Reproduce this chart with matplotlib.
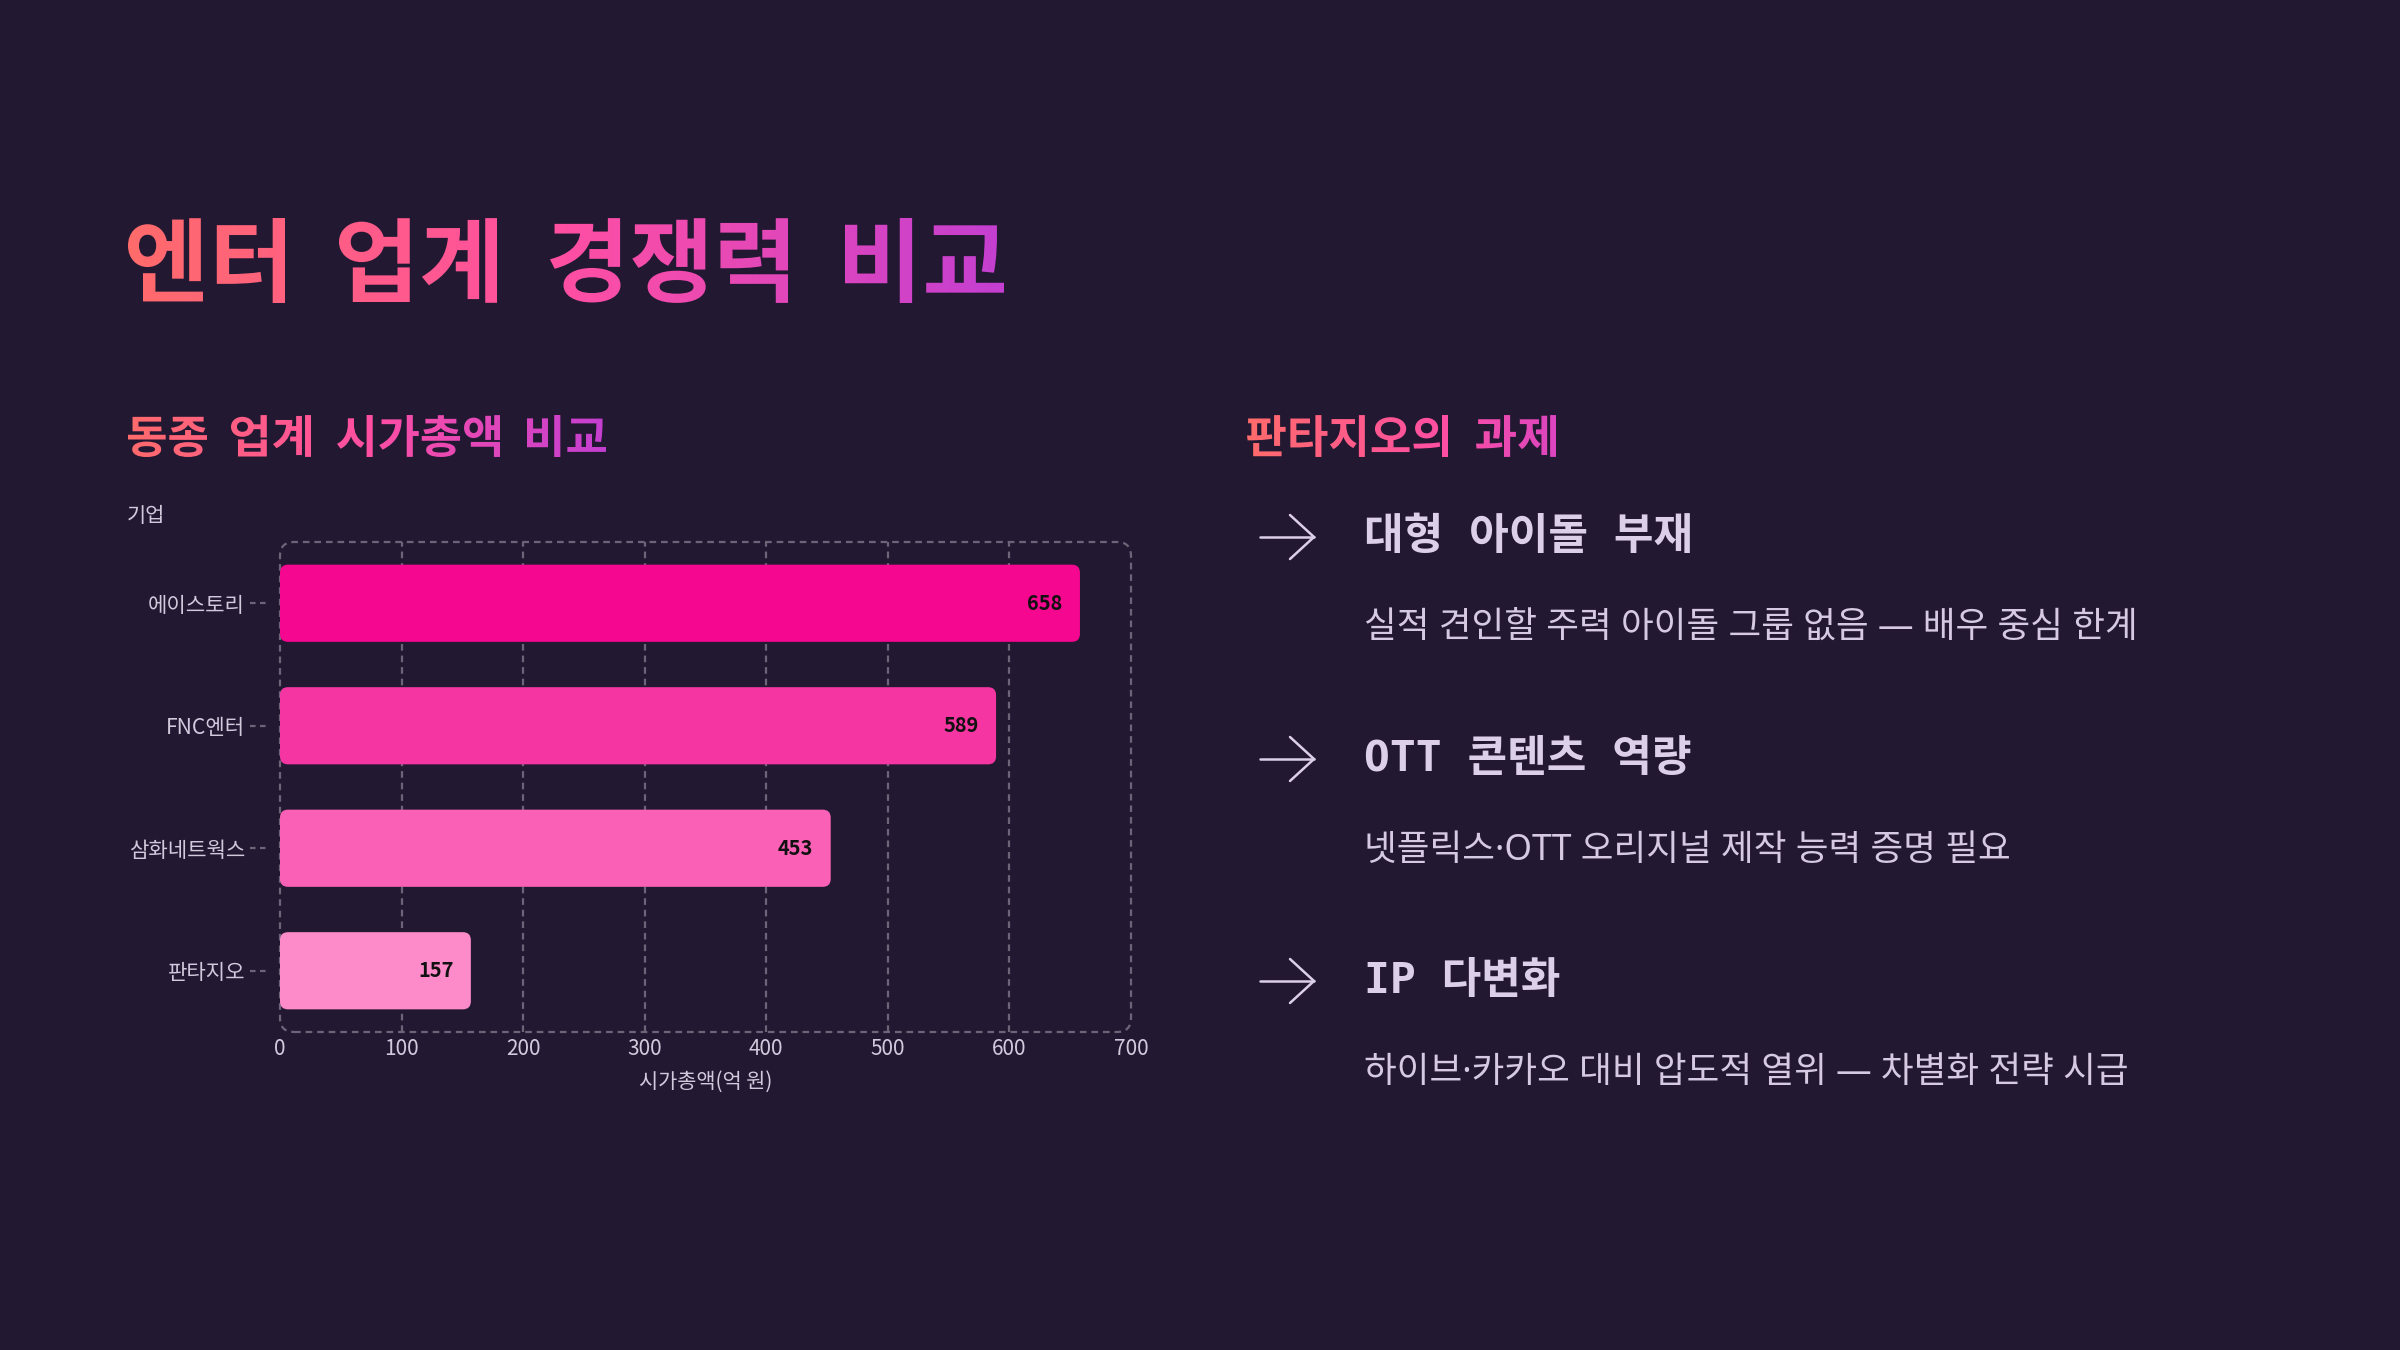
import numpy as np
import matplotlib
matplotlib.use("Agg")
import matplotlib.pyplot as plt
from matplotlib.colors import LinearSegmentedColormap
from matplotlib.font_manager import FontProperties
from matplotlib.textpath import TextPath
from matplotlib.patches import PathPatch, FancyBboxPatch
from matplotlib.path import Path
from matplotlib.transforms import Affine2D, blended_transform_factory

# data
companies = ["에이스토리", "FNC엔터", "삼화네트웍스", "판타지오"]
market_cap = [658, 589, 453, 157]
bar_colors = ["#f5078f", "#f535a2", "#fa60b6", "#fd8bca"]
x_ticks = [0, 100, 200, 300, 400, 500, 600, 700]

challenges = ["대형 아이돌 부재", "OTT 콘텐츠 역량", "IP 다변화"]
details = ["실적 견인할 주력 아이돌 그룹 없음 — 배우 중심 한계",
           "넷플릭스·OTT 오리지널 제작 능력 증명 필요",
           "하이브·카카오 대비 압도적 열위 — 차별화 전략 시급"]

BG = "#231832"; GRID = "#6c6577"; TICK = "#d2c9dc"; HEAD = "#dccfe9"; DESC = "#d6cae2"
GRAD = ["#ff6b6b", "#ff4fa3", "#c43fd1"]
DASH = (0, (3, 2.2))

plt.rcParams["font.family"] = ["Noto Sans CJK KR", "DejaVu Sans"]

fig = plt.figure(figsize=(12, 6.75), dpi=200, facecolor=BG)

# overlay in pixel coords (y down)
ov = fig.add_axes([0, 0, 1, 1])
ov.set_xlim(0, 2400); ov.set_ylim(1350, 0); ov.axis("off")


def grad_words(words, lefts, rights, top, bottom, gx0, gx1):
    fp = FontProperties(family="Noto Sans CJK KR", weight="bold")
    tps = [TextPath((0, 0), w, size=100, prop=fp) for w in words]
    ymax = max(t.get_extents().y1 for t in tps)
    ymin = min(t.get_extents().y0 for t in tps)
    sy = (bottom - top) / (ymax - ymin)
    paths = []
    for t, l, r in zip(tps, lefts, rights):
        e = t.get_extents()
        sx = (r - l) / (e.x1 - e.x0)
        tr = Affine2D().translate(-e.x0, -ymax).scale(sx, -sy).translate(l, top)
        paths.append(tr.transform_path(t))
    patch = PathPatch(Path.make_compound_path(*paths), transform=ov.transData,
                      fc="none", lw=0)
    ov.add_patch(patch)
    cmap = LinearSegmentedColormap.from_list("g", GRAD)
    im = ov.imshow(np.linspace(0, 1, 512).reshape(1, -1), cmap=cmap,
                   extent=(gx0, gx1, bottom + 6, top - 6), aspect="auto",
                   interpolation="bilinear")
    im.set_clip_path(patch)
    ov.set_xlim(0, 2400); ov.set_ylim(1350, 0)


grad_words(["엔터", "업계", "경쟁력", "비교"], [128, 339, 550, 845],
           [285, 497, 788, 1004], 218, 303, 127, 1004)
grad_words(["동종", "업계", "시가총액", "비교"], [128, 231, 337, 527],
           [207, 311, 500, 606], 415, 457, 127, 606)
grad_words(["판타지오의", "과제"], [1247, 1476], [1448, 1556], 415, 457, 1247, 1634)

ov.text(127, 516, "기업", ha="left", va="center", fontsize=7.5, color=TICK)

# chart
ax = fig.add_axes([280 / 2400, 1 - 1032 / 1350, 851 / 2400, 490 / 1350])
ax.set_facecolor("none")
ypos = np.arange(len(companies))
bars = ax.barh(ypos, market_cap, height=0.63)
ax.set_xlim(0, 700); ax.set_ylim(3.5, -0.5)
asp = (4 / 490) / (700 / 851)
rad = 8 * 700 / 851
for b, c in zip(bars, bar_colors):
    x, y, w, h = b.get_x(), b.get_y(), b.get_width(), b.get_height()
    b.remove()
    ax.add_patch(FancyBboxPatch((x, y), w, h, boxstyle=f"round,pad=0,rounding_size={rad}",
                                mutation_aspect=asp, fc=c, ec="none", zorder=3))
for i, v in enumerate(market_cap):
    ax.annotate(f"{v}", xy=(v, i), xytext=(-6.2, 0), textcoords="offset points",
                ha="right", va="center", fontsize=7.2, color="#111111",
                weight="bold", zorder=4)

for s in ax.spines.values():
    s.set_visible(False)
ax.add_patch(FancyBboxPatch((0, 0), 1, 1, boxstyle="round,pad=0,rounding_size=0.0165",
                            mutation_aspect=851 / 490, transform=ax.transAxes, fill=False,
                            ec=GRID, lw=0.8, ls=DASH, clip_on=False, zorder=1))
ax.set_xticks(x_ticks)
ax.grid(axis="x", color=GRID, lw=0.8, ls=DASH, zorder=0)
gl = ax.get_xgridlines()
gl[0].set_visible(False); gl[-1].set_visible(False)
ax.set_axisbelow(True)
ax.tick_params(axis="x", length=0, pad=2.2, labelsize=7.5, labelcolor=TICK)
ax.set_yticks(ypos)
ax.set_yticklabels(companies)
ax.tick_params(axis="y", length=0, pad=12.6, labelsize=7.6, labelcolor=TICK)
trans = blended_transform_factory(ax.transAxes, ax.transData)
for i in ypos:
    ax.plot([-0.0353, -0.0118], [i, i], transform=trans, color=GRID, lw=0.8,
            ls=(0, (2.5, 2)), clip_on=False)
ax.set_xlabel("시가총액(억 원)", fontsize=7.5, color=TICK, labelpad=4)

# right panel
row_y = [537, 759, 981]
for yc, head, det in zip(row_y, challenges, details):
    ov.plot([1260, 1314], [yc, yc], color=HEAD, lw=0.9, solid_capstyle="round")
    ov.plot([1290, 1314, 1290], [yc - 22, yc, yc + 22], color=HEAD, lw=0.9,
            solid_capstyle="round", solid_joinstyle="miter")
    ov.text(1364, yc, head, ha="left", va="center", fontsize=15.5, weight="bold",
            color=HEAD, family=["DejaVu Sans Mono", "Noto Sans CJK KR"])
    ov.text(1364, yc + 92, det, ha="left", va="center", fontsize=12.8, color=DESC,
            family=["Noto Sans", "Noto Sans CJK KR"])

fig.savefig("out.png", dpi=200, facecolor=BG)
